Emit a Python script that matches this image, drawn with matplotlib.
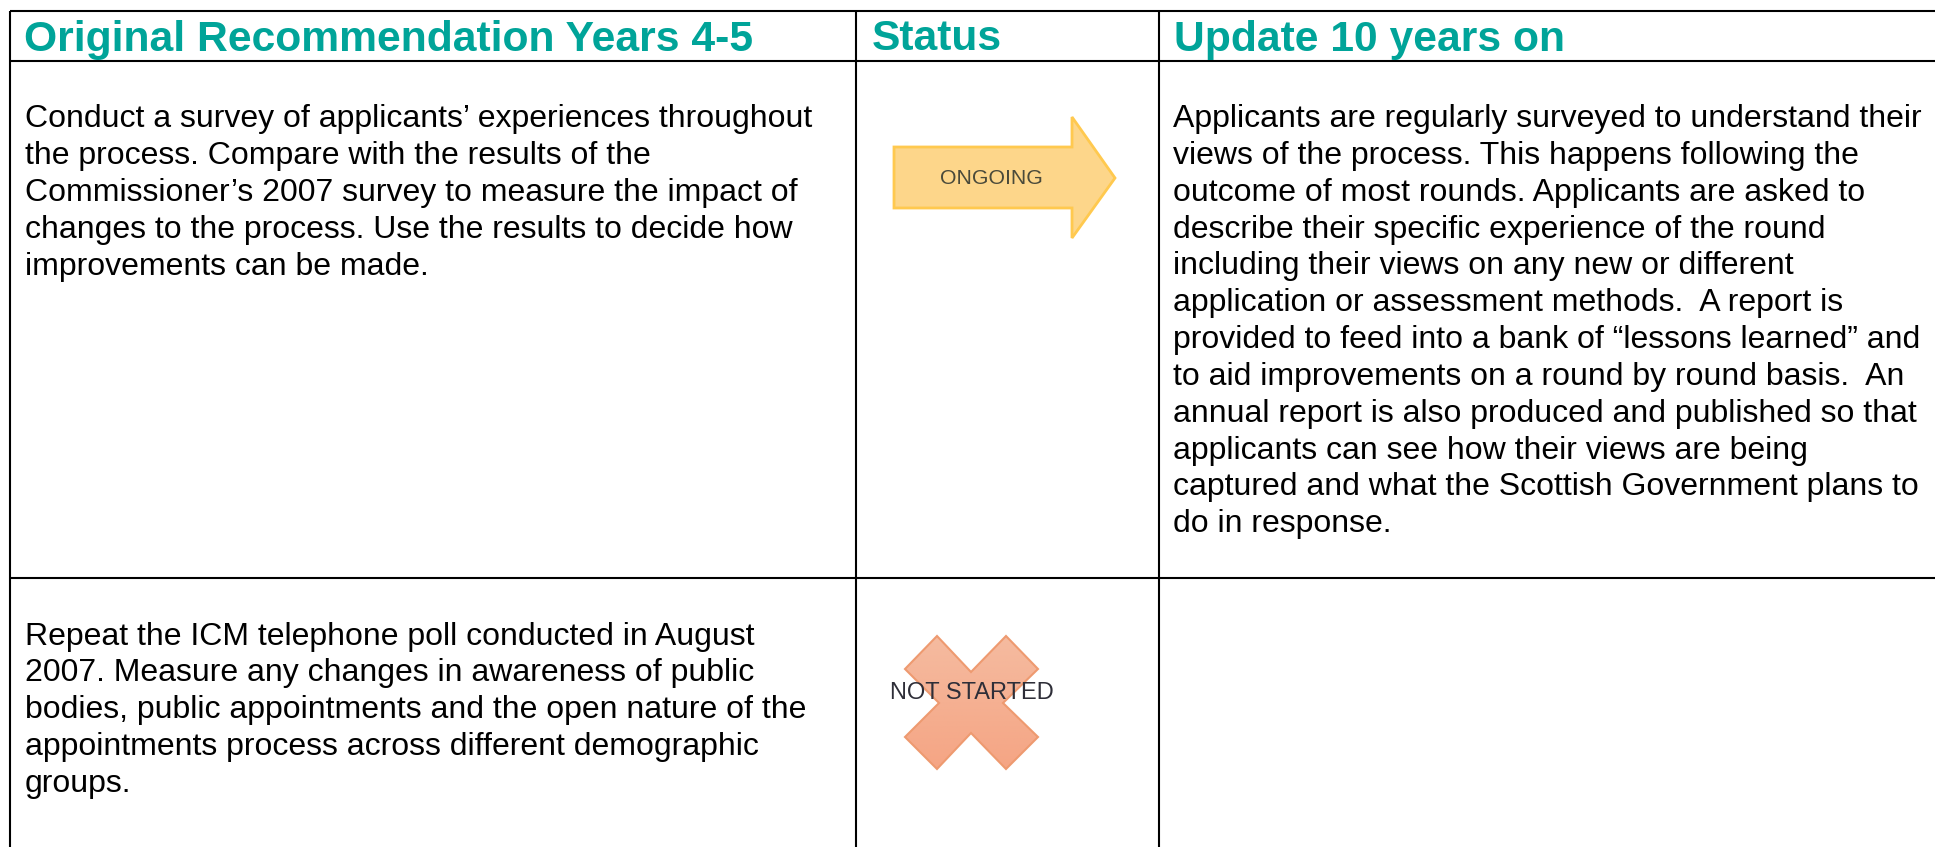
import matplotlib
matplotlib.use('Agg')
import matplotlib.pyplot as plt
from matplotlib.colors import LinearSegmentedColormap
from matplotlib.patches import Polygon
import numpy as np

W, H = 1935, 847

headers = ['Original Recommendation Years 4-5', 'Status', 'Update 10 years on']
rec_1 = ["Conduct a survey of applicants’ experiences throughout",
         "the process. Compare with the results of the",
         "Commissioner’s 2007 survey to measure the impact of",
         "changes to the process. Use the results to decide how",
         "improvements can be made."]
rec_2 = ["Repeat the ICM telephone poll conducted in August",
         "2007. Measure any changes in awareness of public",
         "bodies, public appointments and the open nature of the",
         "appointments process across different demographic",
         "groups."]
update_1 = ["Applicants are regularly surveyed to understand their",
            "views of the process. This happens following the",
            "outcome of most rounds. Applicants are asked to",
            "describe their specific experience of the round",
            "including their views on any new or different",
            "application or assessment methods.  A report is",
            "provided to feed into a bank of “lessons learned” and",
            "to aid improvements on a round by round basis.  An",
            "annual report is also produced and published so that",
            "applicants can see how their views are being",
            "captured and what the Scottish Government plans to",
            "do in response."]
status_labels = ['ONGOING', 'NOT STARTED']

plt.rcParams['font.family'] = ['Liberation Sans', 'DejaVu Sans']

fig = plt.figure(figsize=(W / 100, H / 100), dpi=100)
ax = fig.add_axes([0, 0, 1, 1])
ax.set_xlim(0, W)
ax.set_ylim(H, 0)
ax.axis('off')

# table grid, right and bottom edges are cropped off in the original
col_x = [10, 856, 1159]
row_y = [11, 61, 578]
for x in col_x:
    ax.plot([x, x], [row_y[0], H], color='black', lw=1.5, solid_capstyle='butt')
for y in row_y:
    ax.plot([col_x[0], W], [y, y], color='black', lw=1.5, solid_capstyle='butt')

# header text
for x, t in zip([24, 872, 1174], headers):
    ax.text(x, 50.5, t, color='#00A499', fontsize=30.7, fontweight='bold', va='baseline', ha='left')

# body text
def draw_lines(x, y0, lines):
    for i, line in enumerate(lines):
        ax.text(x, y0 + i * 36.85, line, color='black', fontsize=23, va='baseline', ha='left')

draw_lines(25, 127.3, rec_1)
draw_lines(1173, 127, update_1)
draw_lines(25, 644.5, rec_2)

# ongoing arrow
arrow = [(894, 147), (1072, 147), (1072, 117), (1115, 178), (1072, 238), (1072, 208), (894, 208)]
ax.add_patch(Polygon(arrow, closed=True, facecolor='#FDD68A', edgecolor='#FFC94F', lw=2))
ax.text(991, 178, status_labels[0], color='#4A4A3A', fontsize=15.3, ha='center', va='center')

# not started cross, fades a little from top to bottom
cross = [(905, 669), (937, 636), (971, 672), (1006, 636), (1038, 669), (1003, 703),
         (1038, 737), (1006, 769), (971, 733), (937, 769), (905, 737), (939, 703)]
cross_patch = Polygon(cross, closed=True, facecolor='none', edgecolor='#EE9A70', lw=1.5, zorder=3)
ax.add_patch(cross_patch)
fade = LinearSegmentedColormap.from_list('fade', ['#F5BBA0', '#F5A584'])
im = ax.imshow(np.linspace(0, 1, 100).reshape(-1, 1), cmap=fade, aspect='auto',
               extent=(905, 1038, 769, 636), zorder=2)
im.set_clip_path(cross_patch)
ax.set_xlim(0, W)
ax.set_ylim(H, 0)
ax.text(972, 693, status_labels[1], color='#2E2E38', fontsize=17, ha='center', va='center', zorder=4)

fig.savefig('out.png', dpi=100)
